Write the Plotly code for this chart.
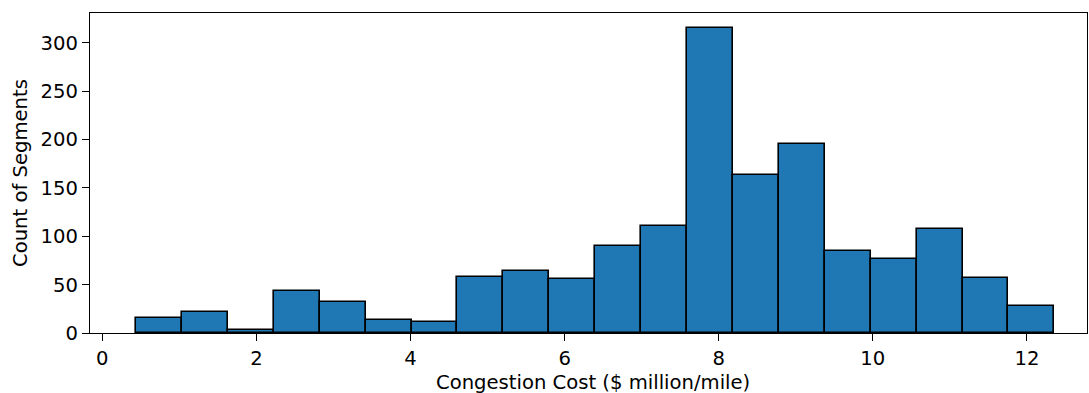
import numpy as np
import plotly.graph_objects as go

# Histogram data
counts = [15, 22, 3, 43, 32, 13, 11, 58, 64, 56, 90, 111, 315, 163, 195, 85, 77, 107, 57, 28]
bin_start = 0.437
bin_width = 0.596
x_ticks = [0, 2, 4, 6, 8, 10, 12]
y_ticks = [0, 50, 100, 150, 200, 250, 300]
x_title = "Congestion Cost ($ million/mile)"
y_title = "Count of Segments"

edges = bin_start + bin_width * np.arange(len(counts) + 1)
centers = (edges[:-1] + edges[1:]) / 2

fig = go.Figure(
    go.Bar(
        x=centers,
        y=counts,
        width=bin_width,
        marker=dict(color="#1f77b4", line=dict(color="black", width=1.6)),
    )
)

font = dict(family="DejaVu Sans", size=19.6, color="black")
fig.update_layout(
    width=1089,
    height=393,
    margin=dict(l=90, r=2, t=13, b=60),
    plot_bgcolor="white",
    paper_bgcolor="white",
    font=font,
    showlegend=False,
    bargap=0,
    annotations=[
        dict(text=x_title, xref="paper", yref="paper", x=0.5, y=0,
             xanchor="center", yanchor="middle", yshift=-49, xshift=4,
             showarrow=False, font=font),
        dict(text=y_title, xref="paper", yref="paper", x=0, y=0.5,
             xanchor="center", yanchor="middle", xshift=-70, textangle=-90,
             showarrow=False, font=font),
    ],
)
common = dict(
    ticks="outside",
    ticklen=7,
    tickwidth=1.4,
    tickcolor="black",
    showline=True,
    linecolor="black",
    linewidth=1.4,
    mirror=True,
    showgrid=False,
    zeroline=False,
    automargin=False,
    tickfont=font,
)
fig.update_xaxes(range=[-0.16, 12.78], tickvals=x_ticks, **common)
fig.update_yaxes(range=[0, 330.75], tickvals=y_ticks, **common)

fig.write_html(
    "out.html",
    config={"displayModeBar": False},
    post_script="document.body.style.margin='0';document.body.style.overflow='hidden';",
)
